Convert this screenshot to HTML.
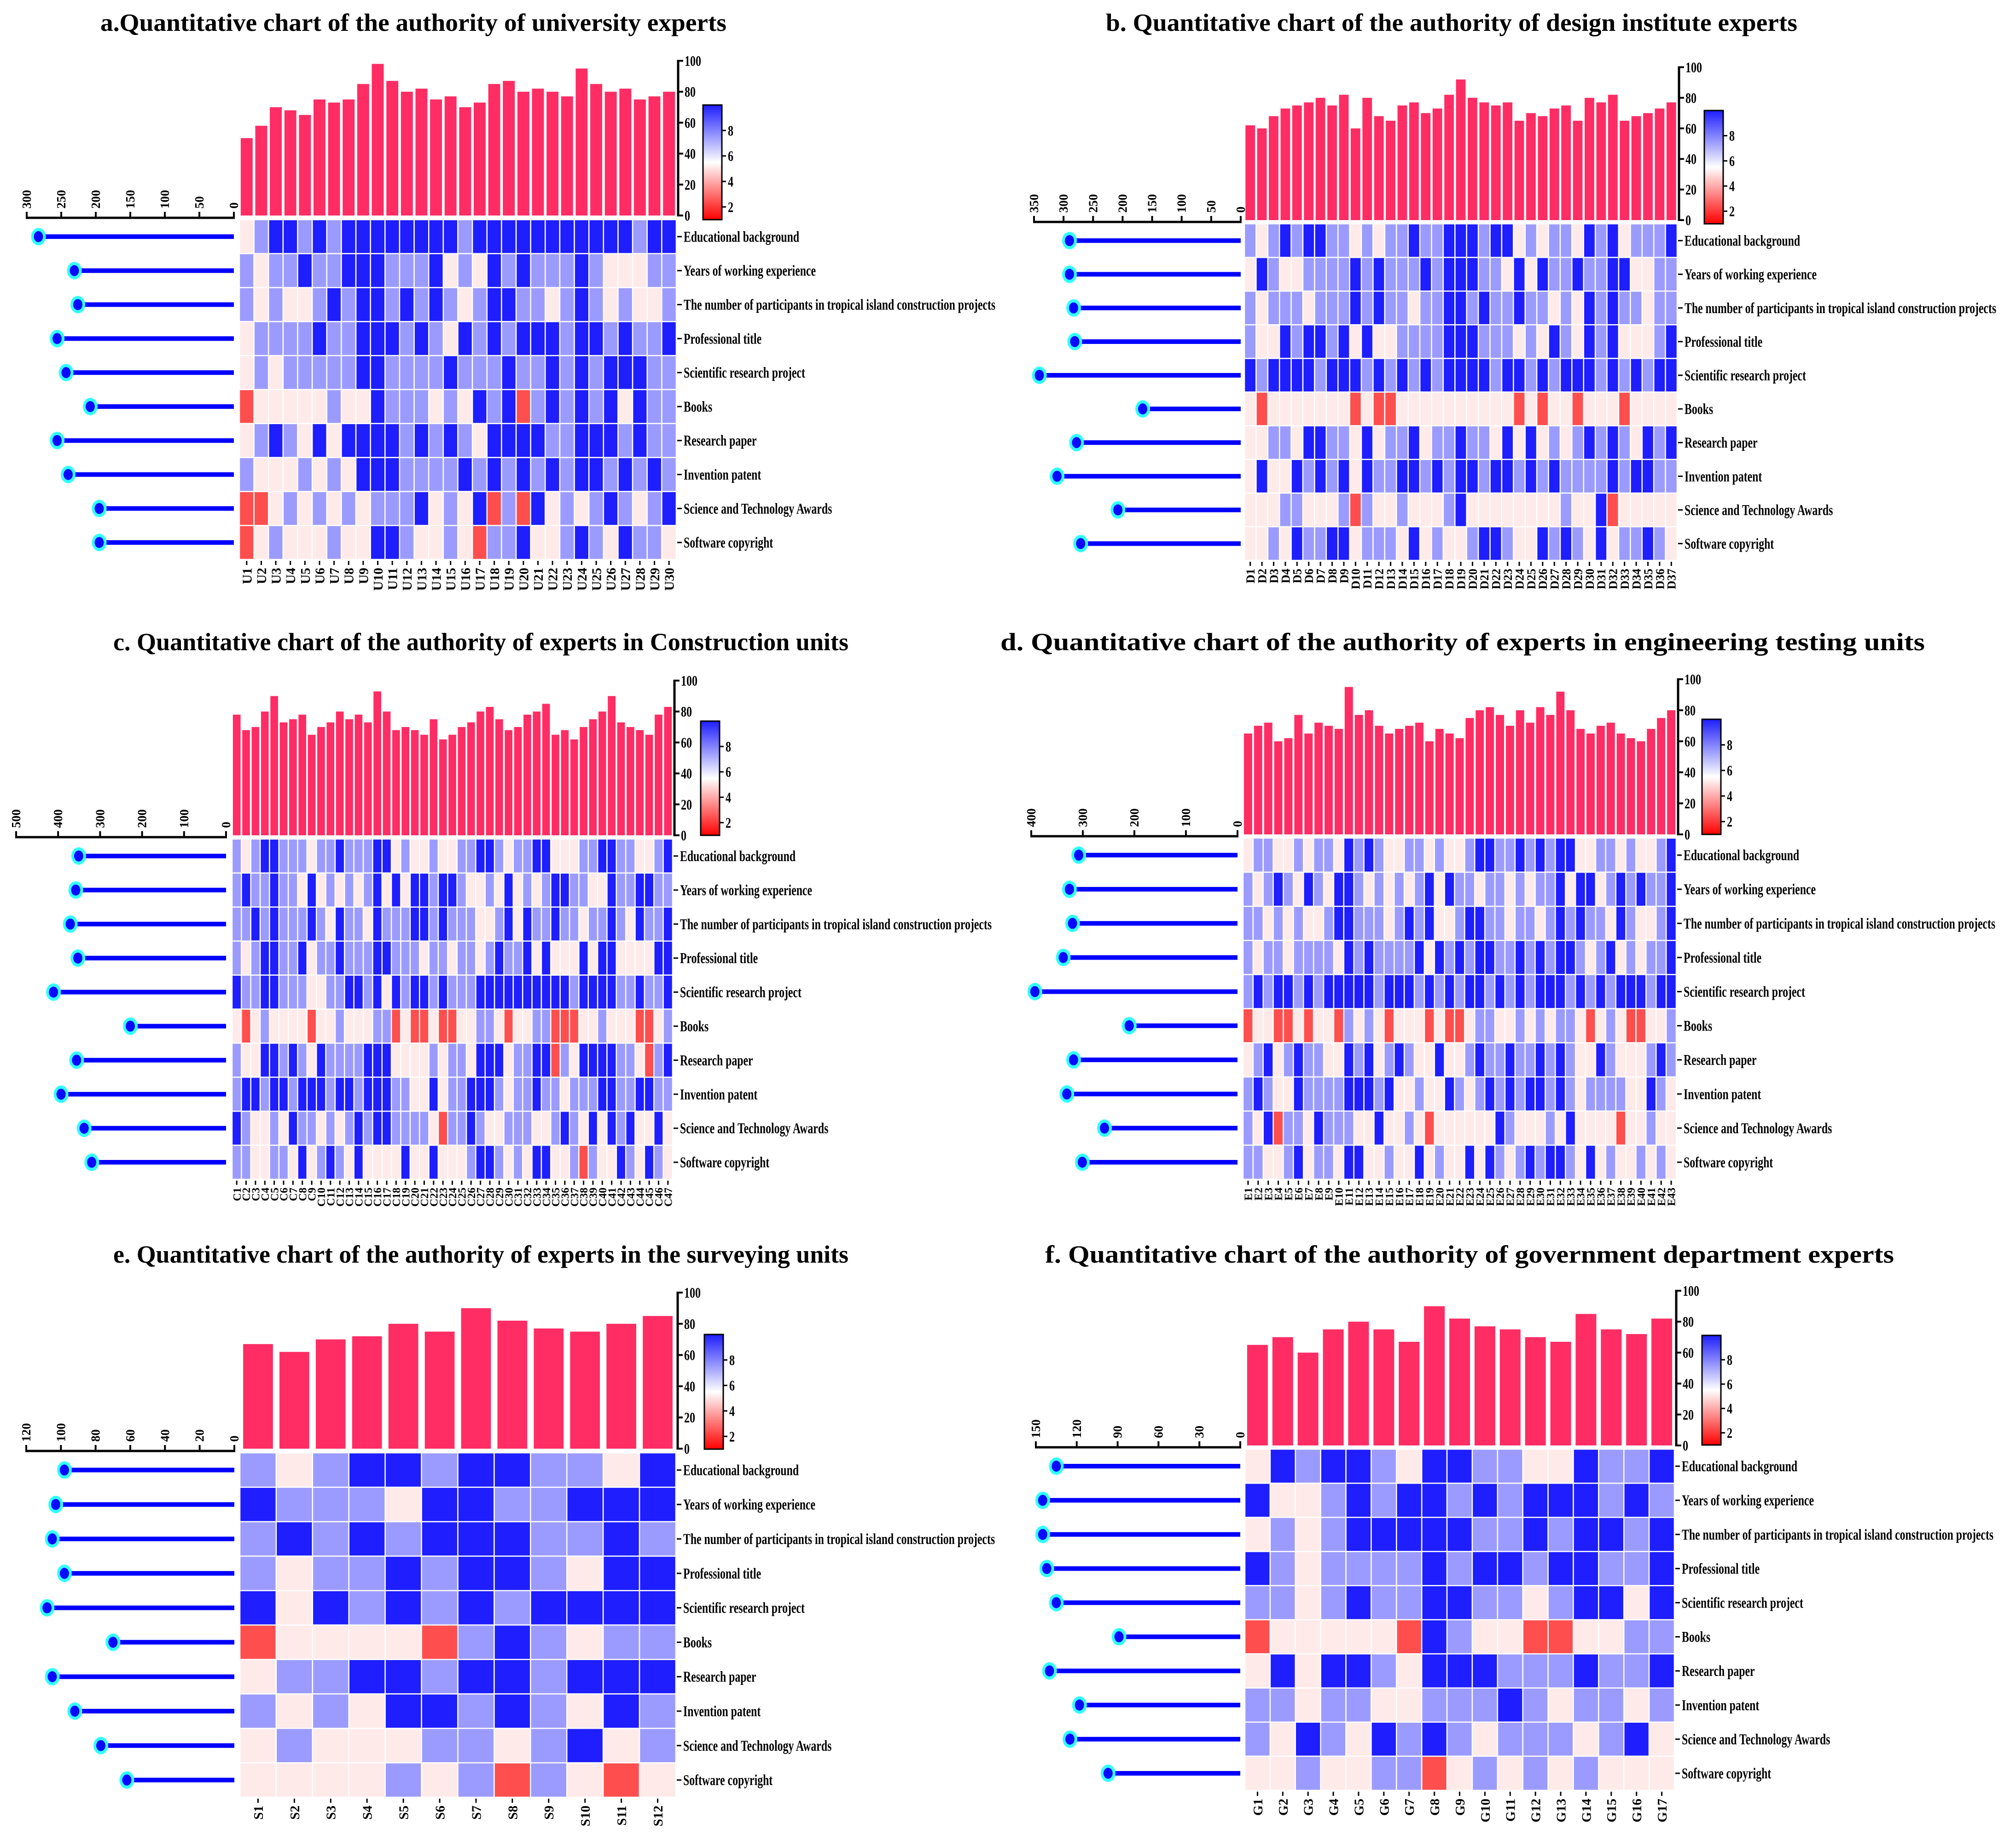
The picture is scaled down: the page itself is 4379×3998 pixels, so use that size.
<!DOCTYPE html>
<html><head><meta charset="utf-8"><style>
html,body{margin:0;padding:0;background:#fff;}
svg{display:block;}
text{font-family:"Liberation Serif",serif;font-weight:bold;fill:#000;}
</style></head><body>
<svg id="chart" xmlns="http://www.w3.org/2000/svg" width="4379" height="3998" viewBox="0 0 4379 3998">
<defs>
<linearGradient id="cbgrad" x1="0" y1="1" x2="0" y2="0">
<stop offset="0" stop-color="#ff0000"/><stop offset="0.5" stop-color="#ffffff"/><stop offset="1" stop-color="#1e1eff"/>
</linearGradient>
</defs>
</svg>
<script>
const rowLabels = ["Educational background","Years of working experience","The number of participants in tropical island construction projects","Professional title","Scientific research project","Books","Research paper","Invention patent","Science and Technology Awards","Software copyright"];

const aBars = [50,58,70,68,65,75,73,75,85,98,87,80,82,75,77,70,73,85,87,80,82,80,77,95,85,80,82,75,77,80];
const aLolli = [283,231,226,256,243,208,256,240,195,195];
const aHeat = [
[5,7,9,9,7,9,7,9,9,9,9,9,9,9,9,7,9,9,9,9,9,9,9,9,9,9,9,7,9,9],
[7,5,7,7,9,7,7,9,9,9,7,7,7,9,5,7,5,9,7,9,7,7,7,9,7,5,5,5,7,7],
[7,5,7,5,5,7,9,7,9,9,7,9,7,9,7,5,7,9,9,7,7,5,7,9,7,5,7,5,5,7],
[5,7,7,7,7,9,7,7,9,9,9,7,9,7,5,9,7,9,7,9,9,9,7,9,9,7,9,7,7,9],
[5,7,5,7,7,7,7,7,9,9,7,7,7,7,9,7,7,7,9,7,7,9,7,9,7,9,9,9,7,7],
[2,5,5,5,5,5,7,5,5,9,7,7,7,5,7,5,9,7,9,2,7,9,7,9,7,9,5,9,7,7],
[5,7,9,7,5,9,5,9,9,9,9,7,9,7,9,7,5,9,9,9,9,7,7,9,9,9,7,9,7,7],
[7,5,5,5,7,5,7,5,9,9,9,7,7,7,7,9,7,9,7,9,7,9,7,9,9,7,9,7,9,7],
[2,2,5,7,5,7,5,7,5,7,7,7,9,5,7,5,9,2,7,2,9,5,7,5,7,9,7,5,7,9],
[2,5,7,5,5,5,7,5,5,9,9,7,5,5,7,5,2,7,7,9,5,5,7,9,7,5,9,7,7,5]];

const bBars = [62,60,68,73,75,77,80,75,82,60,80,68,65,75,77,70,73,82,92,80,77,75,77,65,70,68,73,75,65,80,77,82,65,68,70,73,77];
const bLolli = [290,290,283,281,341,166,278,311,208,271];
const bHeat = [
[7,5,7,9,7,9,9,7,7,5,7,5,7,7,9,7,7,9,9,9,7,9,9,5,7,5,7,7,5,9,7,9,5,7,7,7,9],
[5,9,7,5,5,7,7,7,7,9,7,9,7,7,7,9,7,9,9,9,7,7,5,9,5,9,7,7,9,7,7,9,9,5,5,7,7],
[7,5,7,7,7,5,7,7,7,9,7,9,7,7,5,7,7,9,9,7,9,7,7,9,7,7,5,7,5,9,7,9,7,7,5,7,7],
[7,5,5,9,7,9,9,7,9,5,9,5,5,7,7,7,7,9,9,9,7,7,7,5,7,5,9,7,5,9,7,9,5,5,5,7,9],
[9,7,9,9,9,9,7,9,9,9,7,9,7,9,7,9,7,9,9,9,9,7,9,9,7,9,7,9,9,9,7,9,7,9,7,9,9],
[5,2,5,5,5,5,5,5,5,2,5,2,2,5,5,5,5,5,5,5,5,5,5,2,5,2,5,5,2,5,5,5,2,5,5,5,5],
[5,5,7,7,5,9,9,7,7,5,9,5,7,7,9,5,7,7,9,7,7,5,9,5,9,5,7,5,7,9,7,9,7,5,9,7,9],
[5,9,5,5,9,7,9,7,9,5,9,7,7,9,9,7,9,7,9,9,7,9,9,7,9,7,9,7,7,7,7,9,7,9,9,7,7],
[5,5,5,7,7,5,5,5,7,2,7,5,5,7,5,5,5,7,9,5,5,5,5,5,5,5,5,7,5,5,9,2,5,5,5,5,5],
[5,5,7,5,9,7,7,9,9,5,7,7,7,5,9,5,7,5,5,7,9,9,7,5,5,9,7,9,7,5,9,5,7,7,9,7,5]];

const cBars = [78,68,70,80,90,73,75,78,65,70,73,80,75,78,73,93,80,68,70,68,65,75,62,65,70,73,80,83,75,68,70,78,80,85,65,68,62,70,75,80,90,73,70,68,65,78,83];
const cLolli = [351,358,371,353,411,228,356,393,338,320];
const cHeat = [
[7,5,7,9,9,7,7,7,5,7,7,9,7,7,7,9,9,5,7,5,5,7,5,5,7,7,9,9,7,5,7,7,9,9,5,5,5,7,7,9,9,7,7,5,5,7,9],
[7,9,7,7,9,7,7,5,9,5,7,5,7,5,7,9,5,9,5,9,9,7,9,9,7,5,5,7,5,9,5,7,5,7,9,9,7,7,5,5,9,7,7,9,9,7,7],
[7,7,9,7,9,7,7,7,9,7,5,9,7,7,5,9,7,7,7,9,9,7,9,7,7,7,5,5,7,9,5,9,7,7,9,7,7,5,7,7,9,7,5,9,7,7,9],
[7,5,7,9,9,7,7,9,5,7,7,9,7,7,7,9,9,7,7,7,5,7,7,5,7,7,5,7,9,7,7,9,5,9,5,5,5,9,5,9,9,5,5,5,5,9,9],
[9,7,7,9,9,7,7,7,5,5,7,7,9,9,7,9,5,9,7,9,9,7,9,7,7,7,9,9,9,9,9,9,9,9,9,9,7,9,9,9,9,7,7,9,7,7,9],
[5,2,5,7,5,5,5,5,2,5,5,7,5,5,5,7,7,2,5,2,2,5,2,2,5,5,7,7,5,2,5,5,7,7,2,2,2,5,5,7,5,5,5,2,2,5,7],
[7,5,5,9,9,7,9,7,5,9,7,7,7,7,9,9,9,5,5,5,5,7,5,7,7,5,9,9,9,5,7,7,9,9,2,7,5,9,9,9,9,7,7,5,2,7,9],
[7,9,9,7,9,9,7,9,9,9,7,9,9,7,9,9,9,7,7,5,5,9,5,7,7,9,9,9,7,5,7,7,9,7,7,5,7,7,7,9,9,7,7,9,9,7,7],
[9,7,5,5,7,5,9,7,7,5,7,5,7,9,7,9,9,7,7,7,7,5,2,7,7,9,7,5,5,7,7,7,5,5,7,9,7,5,9,5,9,7,9,5,5,9,5],
[7,7,5,5,7,7,5,9,5,7,9,7,5,9,5,5,5,5,9,5,5,9,5,5,5,7,9,9,7,5,7,5,9,9,5,5,7,2,7,5,5,9,7,5,9,7,5]];

const dBars = [65,70,72,60,62,77,65,72,70,68,95,77,80,70,65,68,70,72,60,68,65,62,75,80,82,77,70,80,72,82,77,92,80,68,65,70,72,65,62,60,68,75,80];
const dLolli = [308,326,320,338,393,210,318,331,258,301];
const dHeat = [
[5,7,7,5,5,7,5,7,7,5,9,7,9,7,5,5,7,7,5,7,5,5,7,9,9,7,7,9,7,9,7,9,9,5,5,7,7,5,7,5,5,7,9],
[7,5,7,9,7,5,9,7,5,9,9,7,5,7,5,7,5,7,9,5,9,7,7,5,7,7,5,7,5,7,7,9,5,9,9,5,7,9,7,9,7,7,9],
[7,7,5,7,5,7,5,5,7,9,9,7,7,7,5,7,9,7,9,5,5,7,9,9,7,7,5,7,7,5,7,9,7,9,7,7,5,9,7,5,5,7,9],
[7,5,7,7,5,7,7,7,7,5,9,7,9,7,7,7,7,9,5,9,7,9,7,9,9,7,7,9,7,9,7,9,9,7,5,7,9,5,7,5,7,7,9],
[7,9,7,9,9,7,9,7,9,9,9,9,9,7,9,9,9,7,9,7,9,7,9,9,7,9,7,9,7,9,9,9,7,9,7,9,7,9,9,9,7,9,9],
[2,5,5,2,2,5,2,5,5,2,7,5,7,5,2,5,5,5,2,5,2,2,5,7,7,5,5,7,5,7,5,7,7,5,2,5,7,5,2,2,5,5,7],
[5,7,9,5,7,9,7,7,5,5,9,7,9,5,7,9,7,5,5,9,5,5,7,9,7,7,9,7,7,9,7,9,7,5,5,9,7,5,5,5,7,9,7],
[7,9,7,5,5,9,7,7,7,7,9,9,9,7,9,5,5,7,5,5,9,7,5,7,9,7,9,7,9,9,7,9,7,5,7,7,7,7,5,5,9,7,5],
[7,5,9,2,7,7,5,9,7,7,7,5,5,9,5,5,7,5,2,5,5,5,5,5,5,9,7,5,5,5,7,5,9,5,5,5,5,2,5,5,7,5,5],
[7,7,5,5,7,9,5,7,7,5,9,9,5,5,7,5,5,9,5,7,5,5,9,5,9,7,5,7,9,7,9,9,7,5,9,5,7,5,5,7,5,7,5]];

const eBars = [67,62,70,72,80,75,90,82,77,75,80,85];
const eLolli = [98,103,105,98,108,70,105,92,77,62];
const eHeat = [
[7,5,7,9,9,7,9,9,7,7,5,9],
[9,7,7,7,5,9,9,7,7,9,9,9],
[7,9,7,9,7,9,9,9,7,7,9,7],
[7,5,7,7,9,7,9,9,7,5,9,9],
[9,5,9,7,9,7,9,7,9,9,9,9],
[2,5,5,5,5,2,7,9,7,5,7,7],
[5,7,7,9,9,7,9,9,7,9,9,9],
[7,5,7,5,9,9,7,9,7,5,9,7],
[5,7,5,5,5,7,7,5,7,9,5,7],
[5,5,5,5,7,5,7,2,7,5,2,5]];

const fBars = [65,70,60,75,80,75,67,90,82,77,75,70,67,85,75,72,82];
const fLolli = [135,145,145,142,135,89,140,118,125,97];
const fHeat = [
[5,9,7,9,9,7,5,9,9,7,7,5,5,9,7,7,9],
[9,5,5,7,9,7,9,9,7,9,7,9,9,9,7,9,7],
[5,7,5,7,9,9,9,9,9,7,7,9,7,9,9,7,9],
[9,7,5,7,7,7,7,9,7,9,9,7,9,9,7,7,9],
[7,7,5,7,9,7,7,9,9,7,7,5,7,9,9,5,9],
[2,5,5,5,5,5,2,9,7,5,5,2,2,5,5,7,7],
[5,9,5,9,9,7,5,9,9,9,7,7,7,9,7,7,9],
[7,7,5,7,7,5,5,7,7,7,9,7,5,7,7,5,7],
[7,5,9,7,5,9,7,9,7,5,7,7,7,5,7,9,5],
[5,5,7,5,5,7,7,2,5,7,5,7,5,7,5,5,5]];

const barTicks = [0,20,40,60,80,100];
const cbTicks = [2,4,6,8];

const NS = "http://www.w3.org/2000/svg";
const svg = document.getElementById('chart');
function mk(tag, attrs, parent){
  const el = document.createElementNS(NS, tag);
  for (const k in attrs) el.setAttribute(k, attrs[k]);
  (parent||svg).appendChild(el);
  return el;
}
function heatColor(v){
  const W = 5.4;
  if (v <= W){
    const f = Math.max(0, Math.min(1, (v - 0.5) / (W - 0.5)));
    const g = Math.round(255 * f);
    return `rgb(255,${g},${g})`;
  }
  const f = Math.max(0, Math.min(1, (v - W) / (9 - W)));
  const c = Math.round(255 - 225 * f);
  return `rgb(${c},${c},255)`;
}

const panels = [
 {key:'a', title:"a.Quantitative chart of the authority of university experts", tx:218, tw:1360, ty:67, pre:'U', bars:aBars, lolli:aLolli, heat:aHeat,
  hx0:520,hx1:1469,hy0:477,hy1:1215,b100:132,b0:468,cbx:1527,cby0:228,cby1:477,lmaxX:58,l0X:508,lmax:300,lstep:50, cfs:29},
 {key:'b', title:"b. Quantitative chart of the authority of design institute experts", tx:2402, tw:1502, ty:67, pre:'D', bars:bBars, lolli:bLolli, heat:bHeat,
  hx0:2703,hx1:3643,hy0:486,hy1:1217,b100:146,b0:478,cbx:3702,cby0:240,cby1:486,lmaxX:2246,l0X:2695,lmax:350,lstep:50, cfs:26},
 {key:'c', title:"c. Quantitative chart of the authority of experts in Construction units", tx:246, tw:1597, ty:1412, pre:'C', bars:cBars, lolli:cLolli, heat:cHeat,
  hx0:504,hx1:1461,hy0:1822,hy1:2561,b100:1478,b0:1814,cbx:1522,cby0:1566,cby1:1814,lmaxX:35,l0X:491,lmax:500,lstep:100, cfs:24},
 {key:'d', title:"d. Quantitative chart of the authority of experts in engineering testing units", tx:2173, tw:2008, ty:1412, pre:'E', bars:dBars, lolli:dLolli, heat:dHeat,
  hx0:2700,hx1:3641,hy0:1820,hy1:2561,b100:1475,b0:1812,cbx:3697,cby0:1562,cby1:1812,lmaxX:2240,l0X:2688,lmax:400,lstep:100, cfs:24},
 {key:'e', title:"e. Quantitative chart of the authority of experts in the surveying units", tx:246, tw:1597, ty:2742, pre:'S', bars:eBars, lolli:eLolli, heat:eHeat,
  hx0:521,hx1:1468,hy0:3155,hy1:3903,b100:2807,b0:3146,cbx:1530,cby0:2898,cby1:3147,lmaxX:57,l0X:509,lmax:120,lstep:20, cfs:29},
 {key:'f', title:"f. Quantitative chart of the authority of government department experts", tx:2270, tw:1844, ty:2742, pre:'G', bars:fBars, lolli:fLolli, heat:fHeat,
  hx0:2704,hx1:3637,hy0:3147,hy1:3888,b100:2803,b0:3139,cbx:3697,cby0:2900,cby1:3138,lmaxX:2250,l0X:2694,lmax:150,lstep:30, cfs:29}
];

panels.forEach(p => {
  const g = mk('g', {});
  
  

  const t = mk('text', {x:p.tx, y:p.ty, 'font-size':54, textLength:p.tw, lengthAdjust:'spacingAndGlyphs'}, g);
  t.textContent = p.title;
  
  

  const n = p.bars.length;
  const pitch = (p.hx1 - p.hx0) / n;
  const xCol = i => p.hx0 + pitch * i;
  const yBar = v => p.b0 - (p.b0 - p.b100) * v / 100;
  const rowH = (p.hy1 - p.hy0) / 10;
  const yRow = r => p.hy0 + rowH * r;
  const xL = v => p.l0X - (p.l0X - p.lmaxX) * v / p.lmax;

  p.bars.forEach((v, i) => {
    const bw = pitch * 0.82;
    const r = mk('rect', {x:xCol(i) + (pitch - bw) / 2, y:yBar(v), width:bw, height:yBar(0) - yBar(v), fill:'#ff2d64'}, g);
    
    
  });
  const ax = p.hx1 + 4;
  const axl = mk('line', {x1:ax, y1:yBar(0) + 2, x2:ax, y2:yBar(100) - 2, stroke:'#000', 'stroke-width':5}, g);
  
  
  barTicks.forEach(tv => {
    mk('line', {x1:ax, y1:yBar(tv), x2:ax + 11, y2:yBar(tv), stroke:'#000', 'stroke-width':4}, g);
    const tl = mk('text', {transform:`translate(${ax + 14},${yBar(tv) + 11}) scale(0.75,1)`, 'font-size':32}, g);
    tl.textContent = tv;
    
    
  });

  p.heat.forEach((row, r) => {
    row.forEach((v, i) => {
      const c = mk('rect', {x:xCol(i), y:yRow(r), width:pitch, height:rowH, fill:heatColor(v), stroke:'#fff', 'stroke-width':2.5}, g);
      
      
    });
    mk('line', {x1:p.hx1 + 2, y1:yRow(r) + rowH / 2, x2:p.hx1 + 12, y2:yRow(r) + rowH / 2, stroke:'#000', 'stroke-width':3}, g);
    const rl = mk('text', {transform:`translate(${p.hx1 + 16},${yRow(r) + rowH / 2 + 11}) scale(0.72,1)`, 'font-size':33}, g);
    rl.textContent = rowLabels[r];
    
    
  });
  for (let i = 0; i < n; i++) {
    const cx = xCol(i) + pitch / 2;
    mk('line', {x1:cx, y1:p.hy1 + 3, x2:cx, y2:p.hy1 + 12, stroke:'#000', 'stroke-width':3}, g);
    const cl = mk('text', {transform:`translate(${cx + p.cfs * 0.36},${p.hy1 + 18}) rotate(-90)`, 'font-size':p.cfs, 'text-anchor':'end'}, g);
    cl.textContent = p.pre + (i + 1);
    
    
  }

  const cbw = 41;
  const cb = mk('rect', {x:p.cbx, y:p.cby0, width:cbw, height:p.cby1 - p.cby0, fill:'url(#cbgrad)', stroke:'#000', 'stroke-width':3}, g);
  
  
  const yCb = v => p.cby1 - (p.cby1 - p.cby0) * (v - 1) / 9;
  cbTicks.forEach(tv => {
    mk('line', {x1:p.cbx + cbw, y1:yCb(tv), x2:p.cbx + cbw + 9, y2:yCb(tv), stroke:'#000', 'stroke-width':3}, g);
    const tl = mk('text', {transform:`translate(${p.cbx + cbw + 13},${yCb(tv) + 11}) scale(0.75,1)`, 'font-size':32}, g);
    tl.textContent = tv;
    
    
  });

  const ay = p.hy0 - 4;
  const la = mk('line', {x1:xL(p.lmax) - 2, y1:ay, x2:xL(0) + 2, y2:ay, stroke:'#000', 'stroke-width':5}, g);
  
  
  for (let tv = 0; tv <= p.lmax; tv += p.lstep) {
    mk('line', {x1:xL(tv), y1:ay, x2:xL(tv), y2:ay - 13, stroke:'#000', 'stroke-width':4}, g);
    const tl = mk('text', {transform:`translate(${xL(tv) + 9},${ay - 20}) rotate(-90)`, 'font-size':27}, g);
    tl.textContent = tv;
    
    
  }
  p.lolli.forEach((v, r) => {
    const cy = yRow(r) + rowH / 2;
    const ln = mk('line', {x1:xL(0), y1:cy, x2:xL(v), y2:cy, stroke:'#0000ff', 'stroke-width':10}, g);
    
    
    const o = mk('ellipse', {cx:xL(v), cy:cy, rx:16, ry:19, fill:'#33ffff'}, g);
    
    
    mk('ellipse', {cx:xL(v), cy:cy, rx:10, ry:12, fill:'#0a0aff'}, g);
  });
});
</script>
</body></html>
